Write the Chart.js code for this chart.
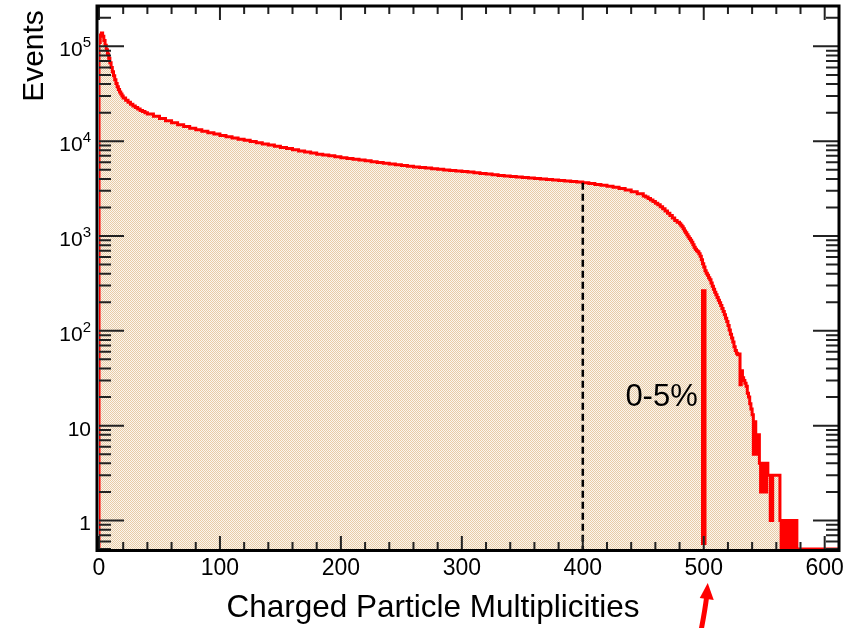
<!DOCTYPE html>
<html>
<head>
<meta charset="utf-8">
<script src="https://cdn.jsdelivr.net/npm/chart.js@4.4.1/dist/chart.umd.min.js"></script>
<style>
  html, body { margin: 0; padding: 0; background: #fff; }
  #wrap { width: 845px; height: 628px; position: relative; }
</style>
</head>
<body>
<div id="wrap"><canvas id="chart"></canvas></div>
<script>
// bin left edges: [start, end, width] segments (finer bins where the curve is steep)
const binSegments = [[0, 19, 1], [20, 40, 2], [45, 445, 5], [450, 478, 2], [480, 577, 1]];

// events per bin
const countsHead = [110000, 132000, 138000, 128000, 115000, 103000, 92000, 83000, 75000, 67000,
  60000, 54000, 49000, 44500, 40500, 37500, 35000, 33000, 31500, 30000];
const countsRise = [28500, 27000, 25700, 24500, 23500, 22600, 21800, 21100, 20500, 19900, 19400];
const countsBody = [18300, 17300, 16400, 15600, 14900, 14300, 13700, 13200, 12750, 12300, 11900,
  11500, 11150, 10800, 10500, 10200, 9900, 9600, 9350, 9100, 8850,
  8600, 8350, 8100, 7900, 7700, 7500, 7300, 7150, 7000, 6850,
  6700, 6580, 6450, 6320, 6200, 6080, 5950, 5850, 5750, 5650,
  5550, 5450, 5350, 5270, 5200, 5120, 5050, 4970, 4900, 4850,
  4800, 4720, 4650, 4570, 4500, 4420, 4350, 4300, 4250, 4200,
  4150, 4100, 4050, 4000, 3950, 3900, 3850, 3800, 3750, 3700,
  3650, 3580, 3500, 3430, 3350, 3260, 3160, 3050, 2930, 2790];
const countsKnee = [2640, 2570, 2490, 2400, 2310, 2220, 2130, 2040, 1940, 1840, 1740, 1640, 1550, 1460, 1400];
const countsTail = [1350, 1300, 1250, 1190, 1130, 1080, 1030, 980, 940, 900,
  860, 810, 760, 725, 700, 680, 650, 610, 560, 510,
  470, 430, 405, 385, 362, 345, 320, 295, 275, 255,
  240, 225, 210, 198, 185, 172, 160, 148, 136, 125,
  114, 102, 92, 84, 76, 68, 62, 58, 56, 57,
  27, 38, 32, 30, 28, 26, 22, 20, 17, 15,
  13, 5, 11, 8, 5, 8, 4, 2, 4, 2,
  4, 2, 4, 3, 3, 1, 1, 3, 3, 3,
  3, 3, 3, 1, 0, 1, 0, 1, 0, 1,
  0, 1, 0, 1, 0, 1, 1, 0];

const xMax = 611;
const yMin = 0.5;
const yMax = 2.6e5;

// dashed cut at 400 and the 0-5% marker at 500
const cutX = 400;
const cutTop = 3650;
const centralX = 500;
const centralTop = 275;

const xTicks = [0, 100, 200, 300, 400, 500, 600];
const xTickLabels = ['0', '100', '200', '300', '400', '500', '600'];
const yTicks = [1, 10, 100, 1000, 10000, 100000];
const yTickLabels = ['1', '10', '10^2', '10^3', '10^4', '10^5'];

const FONT = "'Liberation Sans', Arial, Helvetica, sans-serif";

const binStart = [];
binSegments.forEach(([s, e, w]) => {
  for (let v = s; v <= e; v += w) binStart.push(v);
});
const counts = [].concat(countsHead, countsRise, countsBody, countsKnee, countsTail);

// empty bins sit on the bottom of the log axis, like ROOT draws them
const onAxis = (c) => (c > 0 ? c : yMin);
const histPoints = [{ x: binStart[0], y: yMin }];
binStart.forEach((x, i) => histPoints.push({ x, y: onAxis(counts[i]) }));
histPoints.push({ x: xMax, y: yMin });

// dotted tan fill like ROOT's hatch style
function tanPattern() {
  const c = document.createElement('canvas');
  c.width = 2; c.height = 2;
  const g = c.getContext('2d');
  g.fillStyle = 'rgb(251,246,238)';
  g.fillRect(0, 0, 2, 2);
  g.fillStyle = 'rgb(232,203,166)';
  g.fillRect(0, 0, 1, 1);
  g.fillRect(1, 1, 1, 1);
  return g.createPattern(c, 'repeat');
}

const rootFrame = {
  id: 'rootFrame',
  afterDraw(chart) {
    const { ctx, chartArea: a, scales: { x, y } } = chart;
    ctx.save();

    // ticks on all four sides, pointing inwards
    ctx.strokeStyle = '#222';
    ctx.lineWidth = 2;
    ctx.beginPath();
    for (let v = 0; v <= xMax; v += 20) {
      const px = x.getPixelForValue(v);
      const len = v % 100 === 0 ? 13 : 7;
      ctx.moveTo(px, a.bottom); ctx.lineTo(px, a.bottom - len);
      ctx.moveTo(px, a.top); ctx.lineTo(px, a.top + len);
    }
    for (let e = -1; e <= 5; e++) {
      for (let m = 1; m <= 9; m++) {
        const v = m * Math.pow(10, e);
        if (v < yMin || v > yMax) continue;
        const py = y.getPixelForValue(v);
        const len = m === 1 ? 25 : 12;
        ctx.moveTo(a.left, py); ctx.lineTo(a.left + len, py);
        ctx.moveTo(a.right, py); ctx.lineTo(a.right - len, py);
      }
    }
    ctx.stroke();

    // frame, just outside the plot area so edge bins stay visible
    ctx.strokeStyle = '#000';
    ctx.lineWidth = 3;
    ctx.strokeRect(a.left - 2, a.top - 1, a.right - a.left + 3, a.bottom - a.top + 2.5);

    // x tick labels
    ctx.fillStyle = '#000';
    ctx.font = '23px ' + FONT;
    ctx.textAlign = 'center';
    ctx.textBaseline = 'alphabetic';
    xTicks.forEach((v, i) => ctx.fillText(xTickLabels[i], x.getPixelForValue(v), 575));

    // y tick labels with superscripts
    const right = a.left - 8;
    yTicks.forEach((v, i) => {
      const py = y.getPixelForValue(v);
      const [base, exp] = yTickLabels[i].split('^');
      if (exp === undefined) {
        ctx.font = '21px ' + FONT;
        ctx.textAlign = 'right';
        ctx.fillText(base, right, py + 10);
      } else {
        ctx.font = '15px ' + FONT;
        const ew = ctx.measureText(exp).width;
        ctx.textAlign = 'right';
        ctx.fillText(exp, right, py + 1);
        ctx.font = '21px ' + FONT;
        ctx.fillText(base, right - ew, py + 10);
      }
    });

    // axis titles
    ctx.font = '31.5px ' + FONT;
    ctx.textAlign = 'center';
    ctx.fillText('Charged Particle Multiplicities', 433, 617);
    ctx.save();
    ctx.translate(43, 56);
    ctx.rotate(-Math.PI / 2);
    ctx.font = '30px ' + FONT;
    ctx.fillText('Events', 0, 0);
    ctx.restore();

    // 0-5% label
    ctx.font = '31px ' + FONT;
    ctx.textAlign = 'right';
    ctx.fillText('0-5%', x.getPixelForValue(centralX) - 6, 406);

    // red arrow pointing at the 500 label
    const ax = x.getPixelForValue(centralX);
    ctx.strokeStyle = '#ff0000';
    ctx.fillStyle = '#ff0000';
    ctx.lineWidth = 5;
    ctx.beginPath();
    ctx.moveTo(ax - 3, 632);
    ctx.quadraticCurveTo(ax + 1, 612, ax + 3, 596);
    ctx.stroke();
    ctx.beginPath();
    ctx.moveTo(ax + 4, 583);
    ctx.lineTo(ax + 10, 600);
    ctx.lineTo(ax - 4, 598);
    ctx.closePath();
    ctx.fill();

    ctx.restore();
  }
};

new Chart(document.getElementById('chart').getContext('2d'), {
  type: 'line',
  data: {
    datasets: [
      {
        data: [{ x: cutX, y: cutTop }, { x: cutX, y: yMin }],
        borderColor: '#000',
        borderWidth: 2.5,
        borderDash: [7, 4],
        pointRadius: 0,
        fill: false,
      },
      {
        data: [{ x: centralX, y: centralTop }, { x: centralX, y: 0.55 }],
        borderColor: '#ff0000',
        borderWidth: 5.5,
        pointRadius: 0,
        fill: false,
      },
      {
        data: histPoints,
        borderColor: '#ff0000',
        borderWidth: 3,
        stepped: true,
        pointRadius: 0,
        fill: 'start',
        backgroundColor: tanPattern(),
      },
    ],
  },
  options: {
    responsive: true,
    maintainAspectRatio: false,
    animation: false,
    layout: { padding: { left: 99, right: 7, top: 7, bottom: 79 } },
    plugins: { legend: { display: false }, tooltip: { enabled: false } },
    scales: {
      x: { type: 'linear', min: 0, max: xMax, display: false },
      y: { type: 'logarithmic', min: yMin, max: yMax, display: false },
    },
  },
  plugins: [rootFrame],
});
</script>
</body>
</html>
